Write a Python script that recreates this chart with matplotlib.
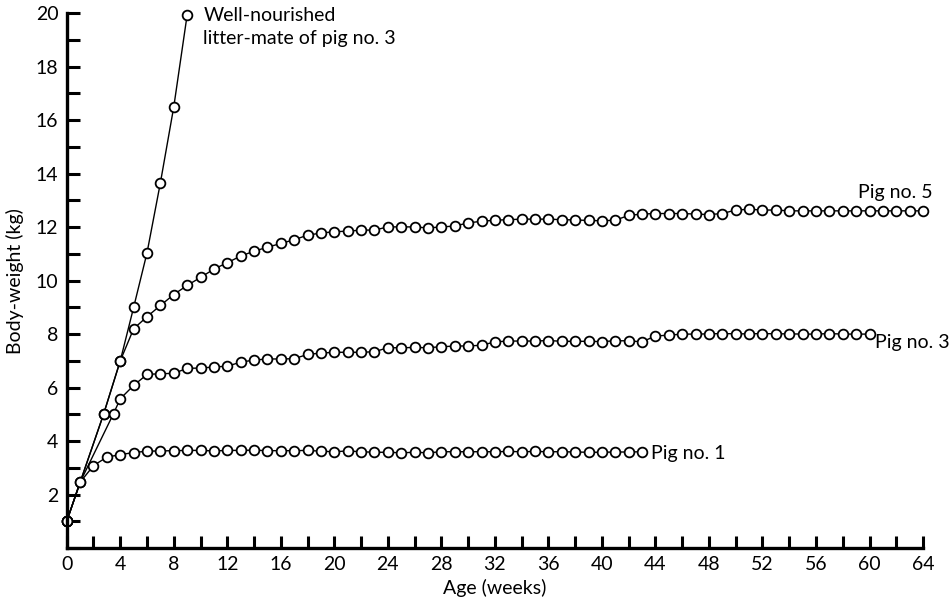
import matplotlib
matplotlib.use("Agg")
import matplotlib.pyplot as plt
from matplotlib.ticker import MultipleLocator

plt.rcParams['font.family'] = ['Lato', 'DejaVu Sans']

# ---- data ----
pig1_weeks = list(range(0, 44))
pig1_kg = [1.0, 2.46, 3.08, 3.40, 3.49, 3.57, 3.62, 3.63, 3.64, 3.65,
           3.65, 3.63, 3.65, 3.65, 3.66, 3.64, 3.64, 3.64, 3.65, 3.62,
           3.60, 3.63, 3.60, 3.58, 3.58, 3.56, 3.58, 3.56, 3.60, 3.60,
           3.60, 3.60, 3.60, 3.61, 3.60, 3.61, 3.60, 3.60, 3.59, 3.58,
           3.58, 3.59, 3.59, 3.60]

pig3_weeks = [0, 1, 3.5] + list(range(4, 61))
pig3_kg = [1.0, 2.46, 5.03, 5.58, 6.08, 6.49, 6.52, 6.53, 6.72, 6.73,
           6.77, 6.80, 6.95, 7.03, 7.07, 7.07, 7.08, 7.24, 7.29, 7.32,
           7.32, 7.32, 7.34, 7.49, 7.49, 7.50, 7.49, 7.53, 7.55, 7.56,
           7.58, 7.71, 7.74, 7.74, 7.74, 7.76, 7.73, 7.73, 7.73, 7.72,
           7.75, 7.75, 7.71, 7.93, 7.96, 8.00, 8.00, 8.01, 8.02, 8.01,
           8.01, 8.02, 8.01, 8.01, 8.00, 8.00, 8.02, 8.00, 8.00, 8.00]

pig5_weeks = [0, 2.75] + list(range(4, 65))
pig5_kg = [1.0, 5.0, 7.0, 8.20, 8.65, 9.07, 9.48, 9.82, 10.12, 10.43,
           10.67, 10.92, 11.10, 11.25, 11.39, 11.53, 11.70, 11.78, 11.83, 11.85,
           11.89, 11.89, 12.01, 12.01, 12.01, 11.97, 12.01, 12.04, 12.16, 12.22,
           12.26, 12.28, 12.30, 12.30, 12.30, 12.28, 12.27, 12.25, 12.24, 12.26,
           12.44, 12.49, 12.51, 12.51, 12.51, 12.49, 12.47, 12.51, 12.64, 12.67,
           12.64, 12.64, 12.61, 12.61, 12.61, 12.61, 12.61, 12.61, 12.61, 12.61,
           12.61, 12.61, 12.61]

mate_weeks = [0, 2.75, 4, 5, 6, 7, 8, 9]
mate_kg = [1.0, 5.0, 7.0, 9.0, 11.04, 13.66, 16.5, 19.94]

x_ticks = list(range(0, 65, 4))
y_ticks = list(range(2, 21, 2))

# ---- figure ----
fig = plt.figure(figsize=(9.52, 6.09), dpi=100)
ax = fig.add_axes([0.0701, 0.1002, 0.8995, 0.878])

style = dict(color='black', lw=1.0, marker='o', markersize=7,
             markerfacecolor='white', markeredgecolor='black',
             markeredgewidth=1.3, clip_on=False)

ax.plot(mate_weeks, mate_kg, **style)
ax.plot(pig5_weeks, pig5_kg, **style)
ax.plot(pig3_weeks, pig3_kg, **style)
ax.plot(pig1_weeks, pig1_kg, **style)

ax.set_xlim(0, 64)
ax.set_ylim(0, 20)
ax.set_xticks(x_ticks)
ax.set_yticks(y_ticks)
ax.xaxis.set_minor_locator(MultipleLocator(2))
ax.yaxis.set_minor_locator(MultipleLocator(1))

for s in ['top', 'right']:
    ax.spines[s].set_visible(False)
for s in ['left', 'bottom']:
    ax.spines[s].set_linewidth(2.4)

ax.tick_params(which='both', direction='in', length=9, width=2.2,
               labelsize=14, colors='black')
ax.tick_params(axis='x', which='both', pad=6)
ax.tick_params(axis='y', which='both', pad=6)

ax.set_xlabel('Age (weeks)', fontsize=14)
ax.set_ylabel('Body-weight (kg)', fontsize=14)
ax.xaxis.set_label_coords(0.5, -0.058)
ax.yaxis.set_label_coords(-0.050, 0.5)

tk = dict(fontsize=14, color='black', clip_on=False)
ax.text(10.2, 19.93, 'Well-nourished', ha='left', va='center', **tk)
ax.text(10.2, 19.07, 'litter-mate of pig no. 3', ha='left', va='center', **tk)
ax.text(64.7, 13.3, 'Pig no. 5', ha='right', va='center', **tk)
ax.text(60.4, 7.7, 'Pig no. 3', ha='left', va='center', **tk)
ax.text(43.7, 3.55, 'Pig no. 1', ha='left', va='center', **tk)

fig.savefig('out.png', dpi=100)
